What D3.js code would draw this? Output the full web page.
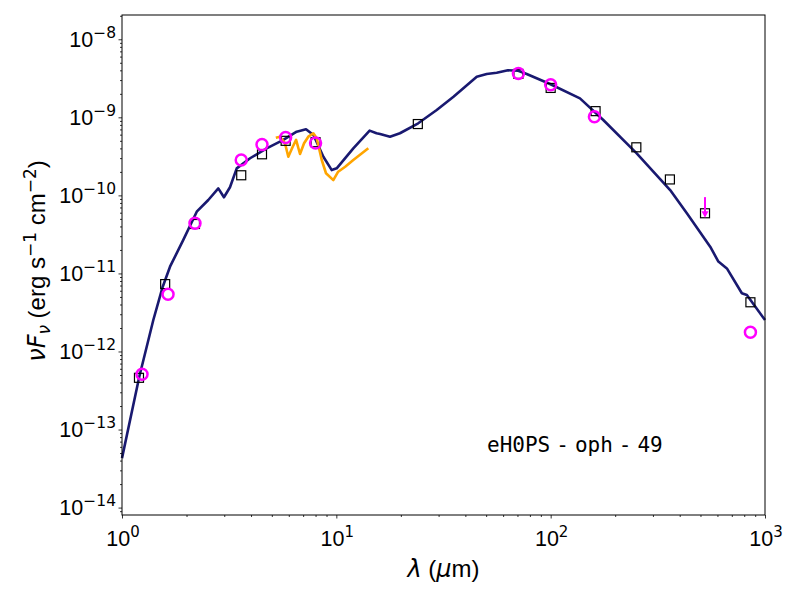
<!DOCTYPE html>
<html>
<head>
<meta charset="utf-8">
<script src="https://cdn.jsdelivr.net/npm/d3@7"></script>
<style>
  body { margin: 0; background: #fff; }
  svg { font-family: "Liberation Sans", Arial, sans-serif; }
  .math { font-family: "DejaVu Sans", sans-serif; }
</style>
</head>
<body>
<div class="sed_container"></div>
<script>
const w = 800;
const h = 600;
const margin = {left: 122, right: 35, top: 15, bottom: 85};

// photometry (black squares)
const photWave = [1.2, 1.59, 2.19, 3.6, 4.5, 5.8, 8.0, 24, 70.7, 100, 162, 251, 360, 525, 855];
const photFlux = [4.6e-13, 7.3e-12, 4.3e-11, 1.81e-10, 3.36e-10, 5.0e-10, 4.8e-10, 8.2e-10,
                  3.6e-9, 2.38e-9, 1.2e-9, 4.13e-10, 1.6e-10, 5.9e-11, 4.27e-12];

// model photometry (magenta circles)
const circWave = [1.24, 1.64, 2.19, 3.6, 4.5, 5.8, 8.0, 70.7, 100, 160, 855];
const circFlux = [5.1e-13, 5.4e-12, 4.4e-11, 2.84e-10, 4.47e-10, 5.5e-10, 4.7e-10,
                  3.65e-9, 2.62e-9, 1.02e-9, 1.76e-12];

// upper limit at 500 um
const limWave = [525];
const limFlux = [5.9e-11];
const limTop = [9.5e-11];

// model SED (navy line)
const modelWave = [1.0, 1.204, 1.304, 1.40, 1.549, 1.675, 1.932, 2.232, 2.527, 2.814, 2.99, 3.19,
  3.43, 3.96, 4.73, 5.66, 6.53, 7.22, 7.82, 8.70, 9.52, 10.04, 12.0, 14.3, 15.4, 16.0, 17.8,
  19.8, 24.1, 29.4, 35.2, 45.2, 50.3, 56.0, 63.2, 70.6, 77.3, 99.3, 137, 176, 252, 361, 432,
  555, 606, 664, 780, 823, 1000];
const modelFlux = [4.3e-14, 4.75e-13, 1.15e-12, 2.53e-12, 6.76e-12, 1.22e-11, 2.69e-11, 6.18e-11,
  8.73e-11, 1.23e-10, 9.46e-11, 1.27e-10, 2.22e-10, 2.99e-10, 4.01e-10, 5.13e-10, 6.55e-10,
  7.03e-10, 5.94e-10, 3.13e-10, 2.11e-10, 2.22e-10, 4.01e-10, 6.75e-10, 6.25e-10, 6.12e-10,
  5.65e-10, 6.25e-10, 8.39e-10, 1.24e-9, 1.84e-9, 3.32e-9, 3.59e-9, 3.73e-9, 4.01e-9, 3.96e-9,
  3.59e-9, 2.67e-9, 1.75e-9, 9.25e-10, 3.46e-10, 1.17e-10, 5.9e-11, 2.2e-11, 1.42e-11,
  1.16e-11, 5.57e-12, 5.3e-12, 2.53e-12];

// IRS spectrum (orange line)
const specWave = [5.22, 5.46, 5.76, 5.97, 6.26, 6.49, 6.77, 7.07, 7.40, 7.81, 8.10, 8.55, 8.95,
  9.68, 10.2, 11.0, 12.0, 14.1];
const specFlux = [5.48e-10, 5.65e-10, 4.65e-10, 3.13e-10, 4.2e-10, 5.13e-10, 3.39e-10, 4.65e-10,
  5.65e-10, 6.25e-10, 5.39e-10, 2.84e-10, 1.92e-10, 1.57e-10, 2.01e-10, 2.33e-10, 2.84e-10,
  4.01e-10];

const xExp = [0, 1, 2, 3];
const yExp = [-14, -13, -12, -11, -10, -9, -8];
const sourceName = ["eH0PS", "oph", "49"];

const svg = d3.select(".sed_container").append("svg").attr("width", w).attr("height", h);

const xScale = d3.scaleLog().domain([1, 1000]).range([margin.left, w - margin.right]);
const yScale = d3.scaleLog().domain([Math.pow(10, -14.095), Math.pow(10, -7.689)])
  .range([h - margin.bottom, margin.top]);

// minor ticks
const minorX = xScale.ticks().filter(v => !xExp.includes(Math.round(Math.log10(v) * 1000) / 1000));
const minorY = [];
for (let e = -15; e <= -8; e++) {
  for (let m = 2; m <= 9; m++) {
    const v = m * Math.pow(10, e);
    if (v >= yScale.domain()[0] && v <= yScale.domain()[1]) minorY.push(v);
  }
}

svg.append("g")
  .attr("transform", "translate(0," + (h - margin.bottom) + ")")
  .call(d3.axisBottom(xScale).tickValues(minorX).tickSize(2).tickFormat(""));
svg.append("g")
  .attr("transform", "translate(0," + (h - margin.bottom) + ")")
  .attr("id", "x-axis")
  .call(d3.axisBottom(xScale).tickValues(xExp.map(e => Math.pow(10, e))).tickSize(3.5).tickFormat(""));
svg.append("g")
  .attr("transform", "translate(" + margin.left + ",0)")
  .call(d3.axisLeft(yScale).tickValues(minorY).tickSize(2).tickFormat(""));
svg.append("g")
  .attr("transform", "translate(" + margin.left + ",0)")
  .attr("id", "y-axis")
  .call(d3.axisLeft(yScale).tickValues(yExp.map(e => Math.pow(10, e))).tickSize(3.5).tickFormat(""));

svg.selectAll(".domain").remove();
svg.selectAll(".tick line").attr("stroke", "#000").attr("stroke-width", 0.8);

// tick labels with superscripts
const xLab = svg.append("g").selectAll("text").data(xExp).enter().append("text")
  .attr("x", d => xScale(Math.pow(10, d)) + 1)
  .attr("y", h - margin.bottom + 31)
  .attr("text-anchor", "middle")
  .attr("font-size", 21.5);
xLab.append("tspan").text("10");
xLab.append("tspan").attr("class", "math").attr("dy", -9).attr("font-size", 15).text(d => d);

const yLab = svg.append("g").selectAll("text").data(yExp).enter().append("text")
  .attr("x", margin.left - 6)
  .attr("y", d => yScale(Math.pow(10, d)) + 7.5)
  .attr("text-anchor", "end")
  .attr("font-size", 21.5);
yLab.append("tspan").text("10");
yLab.append("tspan").attr("class", "math").attr("dy", -9).attr("font-size", 15.5)
  .text(d => "\u2212" + Math.abs(d));

// data
const line = d3.line().x(d => xScale(d[0])).y(d => yScale(d[1]));
svg.append("path")
  .datum(modelWave.map((v, i) => [v, modelFlux[i]]))
  .attr("d", line).attr("fill", "none")
  .attr("stroke", "#191970").attr("stroke-width", 2.6).attr("stroke-linejoin", "round");
svg.append("path")
  .datum(specWave.map((v, i) => [v, specFlux[i]]))
  .attr("d", line).attr("fill", "none")
  .attr("stroke", "#ffa500").attr("stroke-width", 2.6).attr("stroke-linejoin", "round");

svg.selectAll("rect.phot").data(photWave).enter().append("rect")
  .attr("class", "phot")
  .attr("x", (d, i) => xScale(d) - 4.5)
  .attr("y", (d, i) => yScale(photFlux[i]) - 4.5)
  .attr("width", 9).attr("height", 9)
  .attr("fill", "none").attr("stroke", "#000").attr("stroke-width", 1.2);

svg.selectAll("circle.model").data(circWave).enter().append("circle")
  .attr("class", "model")
  .attr("cx", d => xScale(d))
  .attr("cy", (d, i) => yScale(circFlux[i]))
  .attr("r", 5.5)
  .attr("fill", "none").attr("stroke", "#ff00ff").attr("stroke-width", 2.5);

svg.selectAll("line.lim").data(limWave).enter().append("line")
  .attr("class", "lim")
  .attr("x1", d => xScale(d)).attr("x2", d => xScale(d))
  .attr("y1", (d, i) => yScale(limTop[i])).attr("y2", (d, i) => yScale(limFlux[i]))
  .attr("stroke", "#ff00ff").attr("stroke-width", 2);
svg.selectAll("path.lim").data(limWave).enter().append("path")
  .attr("class", "lim")
  .attr("transform", (d, i) => "translate(" + xScale(d) + "," + (yScale(limFlux[i]) + 1) + ")")
  .attr("d", "M-3.5,-3L3.5,-3L0,3.5Z")
  .attr("fill", "#ff00ff");

// frame
svg.append("rect")
  .attr("x", margin.left).attr("y", margin.top)
  .attr("width", w - margin.left - margin.right)
  .attr("height", h - margin.top - margin.bottom)
  .attr("fill", "none").attr("stroke", "#000").attr("stroke-width", 1);

// source name
const name = svg.append("text")
  .attr("x", 487).attr("y", 452)
  .attr("font-family", "'DejaVu Sans Mono', monospace")
  .attr("font-size", 21);
sourceName.forEach((s, i) => {
  if (i > 0) name.append("tspan").attr("dx", 6).text("-");
  name.append("tspan").attr("dx", i > 0 ? 6 : 0).text(s);
});

// axis labels
const xl = svg.append("text")
  .attr("x", (margin.left + w - margin.right) / 2)
  .attr("y", 577)
  .attr("text-anchor", "middle")
  .attr("font-size", 24);
xl.append("tspan").attr("class", "math").attr("font-style", "italic").text("\u03bb");
xl.append("tspan").text(" (");
xl.append("tspan").attr("class", "math").attr("font-style", "italic").text("\u03bc");
xl.append("tspan").text("m)");

const yl = svg.append("text")
  .attr("transform", "translate(45," + ((margin.top + h - margin.bottom) / 2 - 4) + ") rotate(-90)")
  .attr("text-anchor", "middle")
  .attr("font-size", 24);
yl.append("tspan").attr("class", "math").attr("font-style", "italic").text("\u03bdF");
yl.append("tspan").attr("class", "math").attr("font-style", "italic").attr("font-size", 17).attr("dy", 5).text("\u03bd");
yl.append("tspan").attr("dy", -5).text(" (erg s");
yl.append("tspan").attr("class", "math").attr("font-size", 17).attr("dy", -9).text("\u22121");
yl.append("tspan").attr("dy", 9).text(" cm");
yl.append("tspan").attr("class", "math").attr("font-size", 17).attr("dy", -9).text("\u22122");
yl.append("tspan").attr("dy", 9).text(")");
</script>
</body>
</html>
